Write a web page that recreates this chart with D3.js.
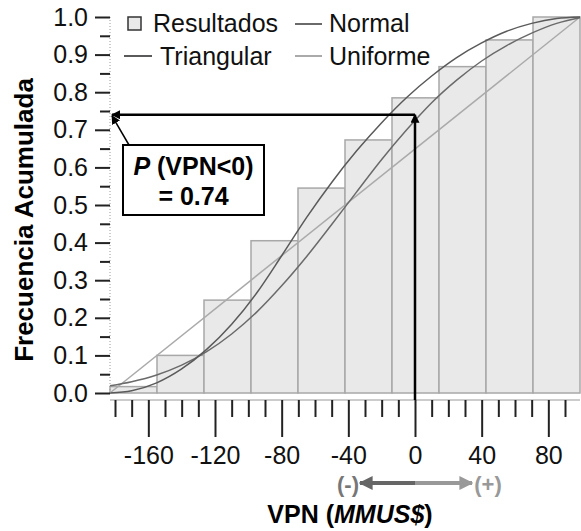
<!DOCTYPE html>
<html>
<head>
<meta charset="utf-8">
<style>
  body { margin: 0; background: #fff; }
  svg { font-family: "Liberation Sans", Arial, sans-serif; }
  .axis .domain { display: none; }
  .axis .tick line { stroke: #222; stroke-width: 2; }
  .axis .tick text { font-size: 25px; fill: #111; }
</style>
</head>
<body>
<svg width="581" height="531"></svg>
<script src="https://d3js.org/d3.v7.min.js"></script>
<script>
// histogram of the results (cumulative)
const binEdges = [-183, -154.8, -126.6, -98.4, -70.2, -42, -13.8, 14.4, 42.6, 70.8, 99];
const cumFreq = [0.017, 0.10, 0.247, 0.405, 0.545, 0.673, 0.785, 0.868, 0.939, 1.0];

// fitted curves
const curveX = [-183, -170, -155, -140, -125, -110, -95, -80, -65, -50, -35, -20, -5, 10, 25, 40, 55, 70, 85, 99];
const normalY = [0.019, 0.030, 0.048, 0.074, 0.110, 0.157, 0.215, 0.285, 0.363, 0.448, 0.535, 0.621, 0.700, 0.772, 0.832, 0.883, 0.924, 0.957, 0.983, 0.998];
const triangularY = [0, 0.006, 0.027, 0.064, 0.116, 0.183, 0.266, 0.365, 0.467, 0.560, 0.644, 0.719, 0.786, 0.843, 0.892, 0.931, 0.962, 0.983, 0.996, 1.0];
const uniformX = [-183, 99];
const uniformY = [0, 1];

const xTicks = [-160, -120, -80, -40, 0, 40, 80];
const xMinor = [-180, -170, -150, -140, -130, -110, -100, -90, -70, -60, -50, -30, -20, -10, 10, 20, 30, 50, 60, 70, 90];
const yTicks = [0, 0.1, 0.2, 0.3, 0.4, 0.5, 0.6, 0.7, 0.8, 0.9, 1.0];
const yMinor = [0.05, 0.15, 0.25, 0.35, 0.45, 0.55, 0.65, 0.75, 0.85, 0.95];

const pNeg = 0.74;

let svg = d3.select("svg");

let x = d3.scaleLinear().domain([-183, 99]).range([110, 580]);
let y = d3.scaleLinear().domain([0, 1]).range([393, 17]);
let axisY = 400;

// markers
let defs = svg.append("defs");
function marker(id, color, size) {
  defs.append("marker")
    .attr("id", id)
    .attr("viewBox", "0 0 10 10")
    .attr("refX", 9).attr("refY", 5)
    .attr("markerUnits", "userSpaceOnUse")
    .attr("markerWidth", size).attr("markerHeight", size)
    .attr("orient", "auto")
    .append("path")
    .attr("d", "M0,0L10,5L0,10z")
    .attr("fill", color);
}
marker("arrBlack", "#000", 9);
marker("arrDark", "#666", 14);
marker("arrLight", "#999", 14);

// bars
let bars = cumFreq.map((v, i) => ({ x0: binEdges[i], x1: binEdges[i + 1], v: v }));
svg.append("g")
  .selectAll("rect")
  .data(bars)
  .join("rect")
  .attr("x", d => x(d.x0))
  .attr("width", d => x(d.x1) - x(d.x0))
  .attr("y", d => y(d.v))
  .attr("height", d => y(0) - y(d.v))
  .attr("fill", "#e9e9e9")
  .attr("stroke", "#a8a8a8")
  .attr("stroke-width", 1.5);

// curves
let line = d3.line().x(d => x(d[0])).y(d => y(d[1])).curve(d3.curveMonotoneX);
svg.append("path")
  .attr("d", line(uniformX.map((v, i) => [v, uniformY[i]])))
  .attr("fill", "none").attr("stroke", "#aaa").attr("stroke-width", 1.5);
svg.append("path")
  .attr("d", line(curveX.map((v, i) => [v, normalY[i]])))
  .attr("fill", "none").attr("stroke", "#6a6a6a").attr("stroke-width", 1.5);
svg.append("path")
  .attr("d", line(curveX.map((v, i) => [v, triangularY[i]])))
  .attr("fill", "none").attr("stroke", "#5a5a5a").attr("stroke-width", 1.5);

// y axis
svg.append("line")
  .attr("x1", x(-183)).attr("x2", x(-183))
  .attr("y1", y(0)).attr("y2", y(1))
  .attr("stroke", "#999").attr("stroke-dasharray", "1,2");

svg.append("g")
  .attr("class", "axis")
  .attr("transform", `translate(${x(-183)},0)`)
  .call(d3.axisLeft(y).tickValues(yTicks).tickSize(15).tickPadding(7).tickFormat(d3.format(".1f")));
svg.append("g")
  .attr("class", "axis")
  .attr("transform", `translate(${x(-183)},0)`)
  .call(d3.axisLeft(y).tickValues(yMinor).tickSize(10).tickFormat(""));

// x axis
svg.append("line")
  .attr("x1", x(-183)).attr("x2", x(99))
  .attr("y1", axisY).attr("y2", axisY)
  .attr("stroke", "#999");

svg.append("g")
  .attr("class", "axis")
  .attr("transform", `translate(0,${axisY})`)
  .call(d3.axisBottom(x).tickValues(xTicks).tickSize(37).tickPadding(9).tickFormat(d => String(d)));
svg.append("g")
  .attr("class", "axis")
  .attr("transform", `translate(0,${axisY})`)
  .call(d3.axisBottom(x).tickValues(xMinor).tickSize(17).tickFormat(""));

// axis titles
svg.append("text")
  .attr("transform", `translate(33,220) rotate(-90)`)
  .attr("text-anchor", "middle")
  .attr("font-size", 26).attr("font-weight", "bold")
  .text("Frecuencia Acumulada");

let xt = svg.append("text")
  .attr("x", 350).attr("y", 523)
  .attr("text-anchor", "middle")
  .attr("font-size", 25).attr("font-weight", "bold");
xt.append("tspan").text("VPN (");
xt.append("tspan").attr("font-style", "italic").text("MMUS$");
xt.append("tspan").text(")");

// (-) / (+) arrow
let ay = 483;
svg.append("line")
  .attr("x1", x(0)).attr("x2", x(0) - 55).attr("y1", ay).attr("y2", ay)
  .attr("stroke", "#666").attr("stroke-width", 4).attr("marker-end", "url(#arrDark)");
svg.append("line")
  .attr("x1", x(0)).attr("x2", x(0) + 57).attr("y1", ay).attr("y2", ay)
  .attr("stroke", "#999").attr("stroke-width", 4).attr("marker-end", "url(#arrLight)");
svg.append("text")
  .attr("x", x(0) - 67).attr("y", ay + 9).attr("text-anchor", "middle")
  .attr("font-size", 22).attr("font-weight", "bold").attr("fill", "#777")
  .text("(-)");
svg.append("text")
  .attr("x", x(0) + 73).attr("y", ay + 9).attr("text-anchor", "middle")
  .attr("font-size", 22).attr("font-weight", "bold").attr("fill", "#999")
  .text("(+)");

// P(VPN<0) annotation
svg.append("line")
  .attr("x1", x(0)).attr("x2", x(0))
  .attr("y1", axisY).attr("y2", y(pNeg))
  .attr("stroke", "#000").attr("stroke-width", 2.5).attr("marker-end", "url(#arrBlack)");
svg.append("line")
  .attr("x1", x(0)).attr("x2", x(-183) + 2)
  .attr("y1", y(pNeg)).attr("y2", y(pNeg))
  .attr("stroke", "#000").attr("stroke-width", 2.5).attr("marker-end", "url(#arrBlack)");
svg.append("line")
  .attr("x1", 129).attr("x2", x(-183) + 2)
  .attr("y1", 145).attr("y2", y(pNeg) + 1)
  .attr("stroke", "#000").attr("stroke-width", 1.5).attr("marker-end", "url(#arrBlack)");

svg.append("rect")
  .attr("x", 123).attr("y", 145).attr("width", 141).attr("height", 70)
  .attr("fill", "#fff").attr("stroke", "#000").attr("stroke-width", 2);
let pt = svg.append("text")
  .attr("x", 193.5).attr("y", 175).attr("text-anchor", "middle")
  .attr("font-size", 25).attr("font-weight", "bold");
pt.append("tspan").attr("font-style", "italic").text("P");
pt.append("tspan").text(" (VPN<0)");
svg.append("text")
  .attr("x", 193.5).attr("y", 205).attr("text-anchor", "middle")
  .attr("font-size", 25).attr("font-weight", "bold")
  .text("= " + pNeg.toFixed(2));

// legend
let legend = svg.append("g").attr("font-size", 25).attr("fill", "#111");
legend.append("rect")
  .attr("x", 128).attr("y", 17).attr("width", 13).attr("height", 13)
  .attr("fill", "#e9e9e9").attr("stroke", "#333").attr("stroke-width", 1.5);
legend.append("text").attr("x", 153).attr("y", 32).text("Resultados");

legend.append("line").attr("x1", 295).attr("x2", 322).attr("y1", 24).attr("y2", 24)
  .attr("stroke", "#6a6a6a").attr("stroke-width", 2);
legend.append("text").attr("x", 329).attr("y", 32).text("Normal");

legend.append("line").attr("x1", 124).attr("x2", 152).attr("y1", 56).attr("y2", 56)
  .attr("stroke", "#5a5a5a").attr("stroke-width", 2);
legend.append("text").attr("x", 160).attr("y", 65).text("Triangular");

legend.append("line").attr("x1", 295).attr("x2", 322).attr("y1", 56).attr("y2", 56)
  .attr("stroke", "#aaa").attr("stroke-width", 2);
legend.append("text").attr("x", 329).attr("y", 65).text("Uniforme");
</script>
</body>
</html>
